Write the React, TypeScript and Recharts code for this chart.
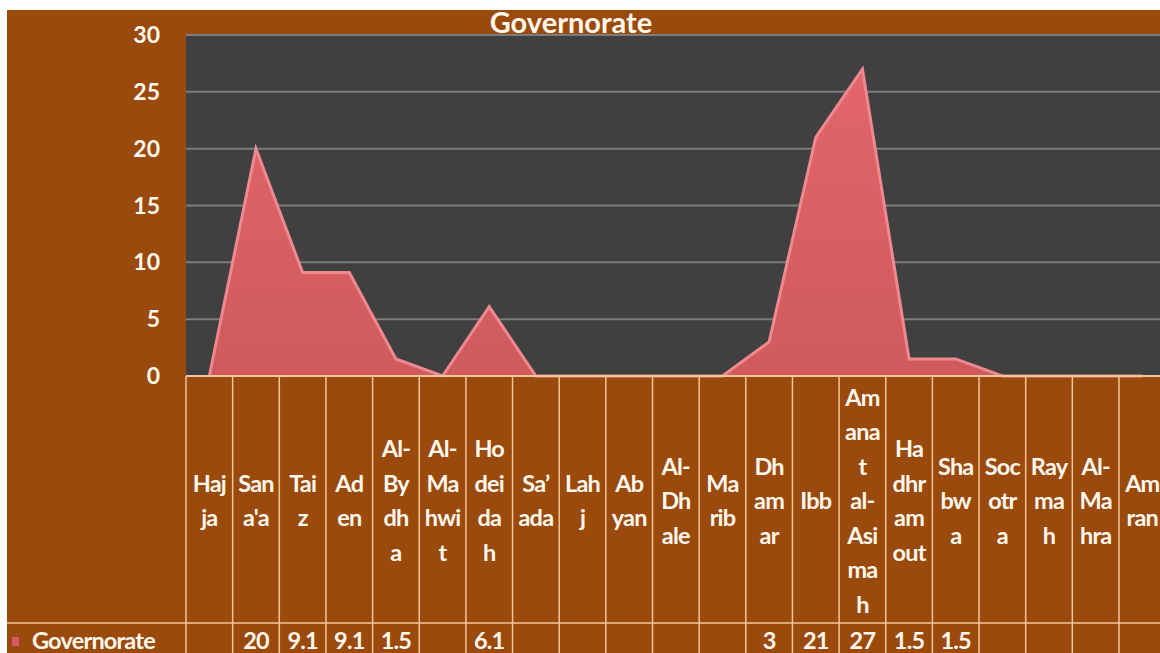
import { AreaChart, Area, XAxis, YAxis, CartesianGrid } from 'recharts';

// categories (governorates) and the values from the data table row
const categories = [
  'Hajja', "San'a'a", 'Taiz', 'Aden', 'Al-Bydha', 'Al-Mahwit', 'Hodeidah', 'Sa’ada',
  'Lahj', 'Abyan', 'Al-Dhale', 'Marib', 'Dhamar', 'Ibb', 'Amanat al-Asimah',
  'Hadhramout', 'Shabwa', 'Socotra', 'Raymah', 'Al-Mahra', 'Amran',
];

// how each name is wrapped in the narrow table header cells
const labelLines = [
  ['Haj', 'ja'], ['San', "a'a"], ['Tai', 'z'], ['Ad', 'en'], ['Al-', 'By', 'dh', 'a'],
  ['Al-', 'Ma', 'hwi', 't'], ['Ho', 'dei', 'da', 'h'], ['Sa’', 'ada'], ['Lah', 'j'],
  ['Ab', 'yan'], ['Al-', 'Dh', 'ale'], ['Ma', 'rib'], ['Dh', 'am', 'ar'], ['Ibb'],
  ['Am', 'ana', 't', 'al-', 'Asi', 'ma', 'h'], ['Ha', 'dhr', 'am', 'out'], ['Sha', 'bw', 'a'],
  ['Soc', 'otr', 'a'], ['Ray', 'ma', 'h'], ['Al-', 'Ma', 'hra'], ['Am', 'ran'],
];

const values: (number | null)[] = [
  null, 20, 9.1, 9.1, 1.5, null, 6.1, null, null, null, null, null,
  3, 21, 27, 1.5, 1.5, null, null, null, null,
];

const yTicks = [0, 5, 10, 15, 20, 25, 30];
const seriesName = 'Governorate';

const data = categories.map((name, i) => ({ name, value: values[i] ?? 0 }));

// layout (chart sits at 7,10 inside the page frame)
const OFF_X = 7;
const OFF_Y = 10;
const CHART_W = 1200;
const CHART_H = 700;
const PLOT_LEFT = 179;
const PLOT_TOP = 25;
const PLOT_BOTTOM = 366;
const COL_W = 46.65;
const RIGHT_MARGIN = CHART_W - PLOT_LEFT - COL_W * categories.length;
const LINE_H = 34.5;
const HEADER_MID = 490;
const ROW_LINE_Y = 613;
const VALUE_Y = 630;

const BROWN = '#9a4a0c';
const TABLE_LINE = '#f1c699';
const TEXT = '#fff8ee';
const FONT = 'Lato, "Open Sans", sans-serif';

function TableTick(props: any) {
  const { x, index } = props;
  const lines = labelLines[index] || [];
  const v = values[index];
  const left = x - COL_W / 2;
  const right = x + COL_W / 2;
  const textStyle = { fill: TEXT, fontSize: 23.5, fontWeight: 700, fontFamily: FONT, letterSpacing: -0.8 };
  return (
    <g>
      {index === 0 && (
        <>
          <line x1={-2} y1={ROW_LINE_Y} x2={CHART_W} y2={ROW_LINE_Y} stroke={TABLE_LINE} strokeWidth={1.5} />
          <rect x={5} y={VALUE_Y - 3} width={7} height={9} fill="#d8586a" />
          <text x={25} y={VALUE_Y} dominantBaseline="central" style={textStyle}>{seriesName}</text>
        </>
      )}
      <line x1={left} y1={PLOT_BOTTOM} x2={left} y2={CHART_H} stroke={TABLE_LINE} strokeWidth={1.5} />
      {index === categories.length - 1 && (
        <line x1={right} y1={PLOT_BOTTOM} x2={right} y2={CHART_H} stroke={TABLE_LINE} strokeWidth={1.5} />
      )}
      {lines.map((t, i) => (
        <text
          key={i}
          x={x}
          y={HEADER_MID + (i - (lines.length - 1) / 2) * LINE_H}
          textAnchor="middle"
          dominantBaseline="central"
          style={textStyle}
        >
          {t}
        </text>
      ))}
      {v != null && (
        <text x={x} y={VALUE_Y} textAnchor="middle" dominantBaseline="central" style={textStyle}>
          {v}
        </text>
      )}
    </g>
  );
}

export default function App() {
  return (
    <>
      <style>{'body { margin: 0; }'}</style>
      <div
        style={{
          position: 'relative',
          width: 1160,
          height: 653,
          overflow: 'hidden',
          background: '#ffffff',
        }}
      >
        <div style={{ position: 'absolute', left: OFF_X, top: OFF_Y, right: 0, bottom: 0, background: BROWN }} />
        <div style={{ position: 'absolute', left: OFF_X, top: OFF_Y }}>
          <AreaChart
            width={CHART_W}
            height={CHART_H}
            data={data}
            margin={{ top: PLOT_TOP, right: RIGHT_MARGIN, left: 0, bottom: 0 }}
          >
            <defs>
              <linearGradient id="areaFill" x1="0" y1="0" x2="0" y2="1">
                <stop offset="0%" stopColor="#e2656a" />
                <stop offset="100%" stopColor="#cf5a5c" />
              </linearGradient>
            </defs>
            <CartesianGrid vertical={false} fill="#404040" stroke="#7c7c7c" strokeWidth={2} />
            <XAxis
              dataKey="name"
              interval={0}
              height={CHART_H - PLOT_BOTTOM}
              padding={{ left: COL_W / 2, right: COL_W / 2 }}
              tickLine={false}
              tickSize={0}
              tickMargin={0}
              axisLine={{ stroke: TABLE_LINE, strokeWidth: 2 }}
              tick={(p: any) => <TableTick {...p} />}
            />
            <YAxis
              domain={[0, 30]}
              ticks={yTicks}
              width={PLOT_LEFT}
              axisLine={false}
              tickLine={false}
              tickSize={0}
              tickMargin={26}
              tick={{ fill: TEXT, fontSize: 23, fontWeight: 700, fontFamily: FONT }}
            />
            <Area
              type="linear"
              dataKey="value"
              name={seriesName}
              stroke="#ef8890"
              strokeWidth={3}
              fill="url(#areaFill)"
              fillOpacity={1}
              isAnimationActive={false}
            />
          </AreaChart>
        </div>
        <div
          style={{
            position: 'absolute',
            left: 451,
            top: 7,
            width: 240,
            textAlign: 'center',
            color: TEXT,
            fontFamily: FONT,
            fontWeight: 700,
            fontSize: 29,
            lineHeight: '29px',
          }}
        >
          Governorate
        </div>
      </div>
    </>
  );
}
